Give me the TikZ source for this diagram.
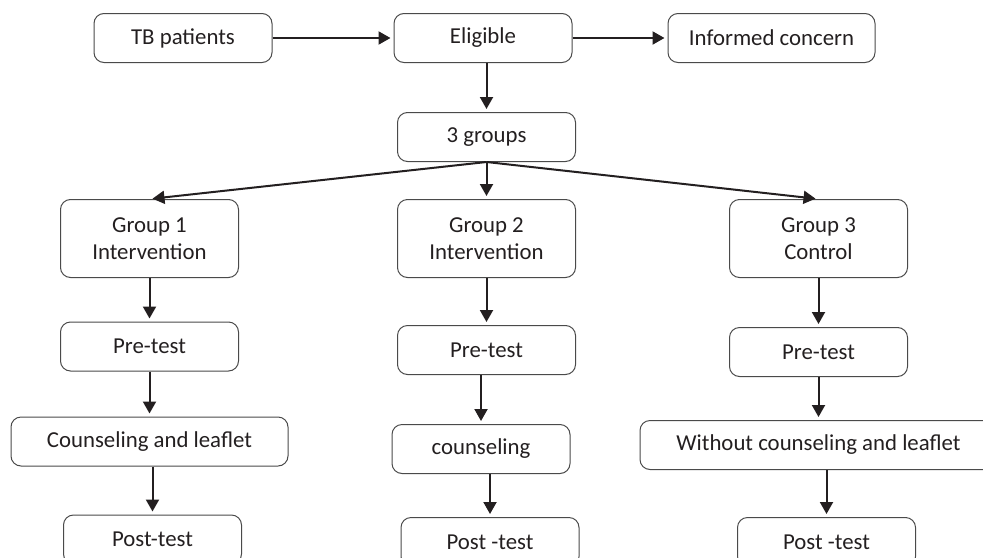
\documentclass[tikz,border=0pt]{standalone}
\usepackage{fontspec}
\setmainfont{Carlito}
\usepackage{xcolor}
\usetikzlibrary{positioning, arrows.meta}
\definecolor{ink}{HTML}{231F20}
\definecolor{edge}{HTML}{4A4A4A}

\begin{document}
\begin{tikzpicture}[
        x=0.5pt, y=0.5pt,
        node distance = 23.5pt and 60pt,
        box/.style    = {draw=edge, line width=0.5pt, rounded corners=5pt, minimum width=89pt, minimum height=24.5pt, align=center, inner sep=2pt, font=\fontsize{11.4}{13.8}\selectfont, text=ink},
        grpbox/.style = {box, minimum height=39pt},
        arrow/.style  = {-{Triangle[length=6pt, width=6.5pt]}, line width=1pt, draw=ink, shorten >=1.5pt},
    ]
        \useasboundingbox (0,0) rectangle (983,-557);

        \node[box] at (183,-38) (tb) {TB patients};
        \node[box, right=60.5pt of tb] (elig) {Eligible};
        \node[box, right=47.5pt of elig, minimum width=103.5pt] (inf) {Informed concern};

        \node[box, below=24.5pt of elig, xshift=1.75pt] (three) {3 groups};

        \node[grpbox, below=18.5pt of three] (g2) {Group 2\\Intervention};
        \node[grpbox, left=79pt of g2] (g1) {Group 1\\Intervention};
        \node[grpbox, right=76.5pt of g2] (g3) {Group 3\\Control};

        \node[box, below=21.75pt of g1] (pre1) {Pre-test};
        \node[box, below=23.5pt of g2] (pre2) {Pre-test};
        \node[box, below=24.5pt of g3] (pre3) {Pre-test};

        \node[box, below=22.5pt of pre1, minimum width=138.5pt] (cl1) {Counseling and leaflet};
        \node[box, below=24.5pt of pre2, xshift=-2.75pt] (c2) {counseling};
        \node[box, below=21.5pt of pre3, minimum width=178.5pt] (w3) {Without counseling and leaflet};

        \node[box, below=24pt of cl1, xshift=1.5pt] (post1) {Post-test};
        \node[box, below=21.5pt of c2, xshift=4.5pt] (post2) {Post -test};
        \node[box, below=23.5pt of w3, xshift=4pt] (post3) {Post -test};

        \draw[arrow] (tb) -- (elig);
        \draw[arrow] (elig) -- (inf);
        \draw[arrow] (three.north |- elig.south) -- (three.north);

        \draw[arrow] (three.south) -- (g1.north);
        \draw[arrow] (three.south) -- (g2.north);
        \draw[arrow] (three.south) -- (g3.north);

        \draw[arrow] (pre1.north |- g1.south) -- (pre1.north);
        \draw[arrow] (cl1.north |- pre1.south) -- (cl1.north);
        \draw[arrow] (post1.north |- cl1.south) -- (post1.north);

        \draw[arrow] (pre2.north |- g2.south) -- (pre2.north);
        \draw[arrow] (c2.north |- pre2.south) -- (c2.north);
        \draw[arrow] (post2.north |- c2.south) -- (post2.north);

        \draw[arrow] (pre3.north |- g3.south) -- (pre3.north);
        \draw[arrow] (w3.north |- pre3.south) -- (w3.north);
        \draw[arrow] (post3.north |- w3.south) -- (post3.north);
    \end{tikzpicture}
\end{document}
